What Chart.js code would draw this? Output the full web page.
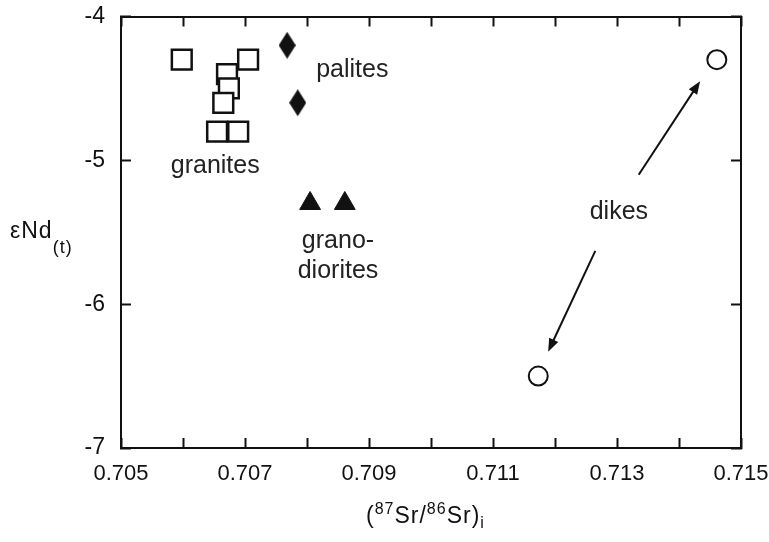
<!DOCTYPE html>
<html lang="en">
<head>
<meta charset="UTF-8">
<title>eNd vs Sr</title>
<script src="https://cdn.jsdelivr.net/npm/chart.js"></script>
<style>
  body { margin: 0; background: #fff; }
  #box { width: 769px; height: 542px; }
</style>
</head>
<body>
<div id="box"><canvas id="myChart"></canvas></div>
<script>
  // data
  var graniteX = [0.70598, 0.70705, 0.70671, 0.70674, 0.70665, 0.70655, 0.70689];
  var graniteY = [-4.3, -4.3, -4.4, -4.5, -4.6, -4.8, -4.8];
  var paliteX = [0.70768, 0.70785];
  var paliteY = [-4.2, -4.6];
  var granodioriteX = [0.70805, 0.70861];
  var granodioriteY = [-5.3, -5.3];
  var dikeX = [0.71461, 0.71173];
  var dikeY = [-4.3, -6.5];

  // annotation text and arrows, in data units
  var noteText = ['palites', 'granites', 'grano-', 'diorites', 'dikes'];
  var noteX = [0.70873, 0.70652, 0.70850, 0.70850, 0.71303];
  var noteY = [-4.424, -5.086, -5.607, -5.816, -5.406];
  var arrowFrom = [[0.71335, -5.10], [0.71265, -5.63]];
  var arrowTo = [[0.71434, -4.45], [0.71189, -6.33]];

  function pts(xs, ys) {
    return xs.map(function (x, i) { return { x: x, y: ys[i] }; });
  }

  // tall thin diamond for palites
  var diamond = document.createElement('canvas');
  diamond.width = 17;
  diamond.height = 27;
  var dctx = diamond.getContext('2d');
  dctx.fillStyle = '#111';
  dctx.beginPath();
  dctx.moveTo(8.5, 0);
  dctx.lineTo(17, 13.5);
  dctx.lineTo(8.5, 27);
  dctx.lineTo(0, 13.5);
  dctx.closePath();
  dctx.fill();

  var FONT = 'Liberation Sans, Arial, sans-serif';

  function drawArrow(ctx, x1, y1, x2, y2) {
    var ang = Math.atan2(y2 - y1, x2 - x1);
    var len = 13, half = 5;
    ctx.beginPath();
    ctx.moveTo(x1, y1);
    ctx.lineTo(x2 - Math.cos(ang) * len * 0.8, y2 - Math.sin(ang) * len * 0.8);
    ctx.stroke();
    ctx.beginPath();
    ctx.moveTo(x2, y2);
    ctx.lineTo(x2 - Math.cos(ang) * len + Math.sin(ang) * half, y2 - Math.sin(ang) * len - Math.cos(ang) * half);
    ctx.lineTo(x2 - Math.cos(ang) * len - Math.sin(ang) * half, y2 - Math.sin(ang) * len + Math.cos(ang) * half);
    ctx.closePath();
    ctx.fill();
  }

  // draws a row of [text, size, dy] pieces starting at x
  function drawPieces(ctx, x, y, pieces) {
    pieces.forEach(function (p) {
      ctx.font = p[1] + 'px ' + FONT;
      ctx.fillText(p[0], x, y + p[2]);
      x += ctx.measureText(p[0]).width;
    });
  }

  var notes = {
    id: 'notes',
    afterDatasetsDraw: function (chart) {
      var ctx = chart.ctx;
      var xs = chart.scales.x, ys = chart.scales.y;
      ctx.save();
      ctx.fillStyle = '#222';
      ctx.textAlign = 'center';
      ctx.textBaseline = 'alphabetic';
      ctx.font = '25px ' + FONT;
      noteText.forEach(function (t, i) {
        ctx.fillText(t, xs.getPixelForValue(noteX[i]), ys.getPixelForValue(noteY[i]));
      });
      ctx.strokeStyle = '#111';
      ctx.fillStyle = '#111';
      ctx.lineWidth = 2;
      arrowFrom.forEach(function (a, i) {
        drawArrow(ctx, xs.getPixelForValue(a[0]), ys.getPixelForValue(a[1]),
          xs.getPixelForValue(arrowTo[i][0]), ys.getPixelForValue(arrowTo[i][1]));
      });

      // axis titles with super/subscripts
      ctx.fillStyle = '#111';
      ctx.textAlign = 'left';
      ctx.letterSpacing = '1px';
      drawPieces(ctx, 10, 238, [['εNd', 23, 0], ['(t)', 18, 15]]);
      drawPieces(ctx, 366, 523, [['(', 23, 0], ['87', 16, -9], ['Sr/', 23, 0], ['86', 16, -9], ['Sr)', 23, 0], ['i', 16, 5]]);
      ctx.restore();
    }
  };

  // fixed axis sizes, no extra room for overhanging end labels
  function fixSize(w, h) {
    return function (s) {
      if (w) s.width = w;
      if (h) s.height = h;
      s.paddingLeft = 0;
      s.paddingRight = 0;
      s.paddingTop = 0;
      s.paddingBottom = 0;
    };
  }

  var gridIn = { drawOnChartArea: false, drawTicks: true, tickLength: -10, tickWidth: 2, color: '#111' };
  var borderAx = { color: '#111', width: 2 };

  var ctx = document.getElementById('myChart').getContext('2d');
  var myChart = new Chart(ctx, {
    type: 'scatter',
    data: {
      datasets: [{
        label: 'granites',
        data: pts(graniteX, graniteY),
        pointStyle: 'rect',
        pointRadius: 14,
        borderWidth: 2.5,
        borderColor: '#111',
        backgroundColor: '#fff'
      }, {
        label: 'palites',
        data: pts(paliteX, paliteY),
        pointStyle: diamond,
        pointRadius: 10
      }, {
        label: 'granodiorites',
        data: pts(granodioriteX, granodioriteY),
        pointStyle: 'triangle',
        pointRadius: 12,
        borderWidth: 1,
        borderColor: '#111',
        backgroundColor: '#111'
      }, {
        label: 'dikes',
        data: pts(dikeX, dikeY),
        pointStyle: 'circle',
        pointRadius: 9.5,
        borderWidth: 2,
        borderColor: '#111',
        backgroundColor: '#fff'
      }]
    },
    options: {
      responsive: true,
      maintainAspectRatio: false,
      animation: false,
      layout: { padding: 0 },
      plugins: {
        legend: { display: false },
        tooltip: { enabled: false }
      },
      scales: {
        x: {
          type: 'linear',
          position: 'bottom',
          min: 0.705,
          max: 0.715,
          grid: gridIn,
          border: borderAx,
          afterFit: fixSize(0, 94),
          ticks: {
            stepSize: 0.001,
            autoSkip: false,
            maxRotation: 0,
            padding: 23,
            color: '#111',
            font: { family: FONT, size: 22 },
            callback: function (v) {
              return Math.round(v * 1000) % 2 === 1 ? v.toFixed(3) : '';
            }
          }
        },
        x2: {
          type: 'linear',
          position: 'top',
          min: 0.705,
          max: 0.715,
          grid: gridIn,
          border: borderAx,
          afterFit: fixSize(0, 16),
          ticks: { stepSize: 0.001, autoSkip: false, display: false }
        },
        y: {
          type: 'linear',
          position: 'left',
          min: -7,
          max: -4,
          grid: gridIn,
          border: borderAx,
          afterFit: fixSize(121, 0),
          ticks: {
            stepSize: 1,
            padding: 26,
            color: '#111',
            font: { family: FONT, size: 23 }
          }
        },
        y2: {
          type: 'linear',
          position: 'right',
          min: -7,
          max: -4,
          grid: gridIn,
          border: borderAx,
          afterFit: fixSize(28, 0),
          ticks: { stepSize: 1, display: false }
        }
      }
    },
    plugins: [notes]
  });
</script>
</body>
</html>
